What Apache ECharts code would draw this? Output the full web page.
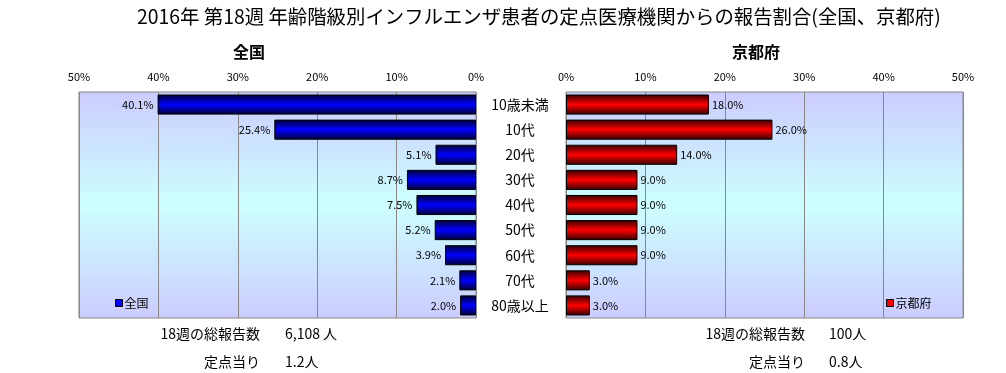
<!DOCTYPE html>
<html><head><meta charset="utf-8">
<script src="https://cdn.jsdelivr.net/npm/echarts@6/dist/echarts.min.js"></script>
<style>html,body{margin:0;padding:0;background:#fff}#c{width:1006px;height:373px}</style>
</head><body><div id="c"></div>
<script>
const titleText = '2016年 第18週 年齢階級別インフルエンザ患者の定点医療機関からの報告割合(全国、京都府)';
const categories = ['10歳未満','10代','20代','30代','40代','50代','60代','70代','80歳以上'];
const nationalValues = [40.1, 25.4, 5.1, 8.7, 7.5, 5.2, 3.9, 2.1, 2.0];
const kyotoValues = [18.0, 26.0, 14.0, 9.0, 9.0, 9.0, 9.0, 3.0, 3.0];
const panelNames = ['全国', '京都府'];
const nationalNotes = [['18週の総報告数', '6,108 人'], ['定点当り', '1.2人']];
const kyotoNotes = [['18週の総報告数', '100人'], ['定点当り', '0.8人']];

const FONT = '"Noto Sans CJK JP", "Noto Sans", sans-serif';
const chart = echarts.init(document.getElementById('c'), null, {renderer: 'canvas'});

const bgGrad = new echarts.graphic.LinearGradient(0, 0, 0, 1, [
  {offset: 0, color: '#ccccff'}, {offset: 0.5, color: '#ccffff'}, {offset: 1, color: '#ccccff'}
]);
const blueGrad = new echarts.graphic.LinearGradient(0, 0, 0, 1, [
  {offset: 0, color: '#000033'}, {offset: 0.5, color: '#0000ff'}, {offset: 1, color: '#000033'}
]);
const redGrad = new echarts.graphic.LinearGradient(0, 0, 0, 1, [
  {offset: 0, color: '#330000'}, {offset: 0.5, color: '#ff0000'}, {offset: 1, color: '#330000'}
]);

function noteTexts(notes, labelRight, valueLeft, y0) {
  const out = [];
  notes.forEach((n, i) => {
    out.push({type: 'text', right: 1006 - labelRight, top: y0 + i * 28,
      style: {text: n[0], font: '14px ' + FONT, fill: '#000', textAlign: 'right'}});
    out.push({type: 'text', left: valueLeft, top: y0 + i * 28,
      style: {text: n[1], font: '14px ' + FONT, fill: '#000'}});
  });
  return out;
}

const xAxisCommon = {
  type: 'value', min: 0, max: 50, interval: 10, position: 'top',
  axisLine: {show: false}, axisTick: {show: false},
  axisLabel: {formatter: '{value}%', fontSize: 11, fontFamily: FONT, color: '#000', margin: 10},
  splitLine: {show: true, lineStyle: {color: '#888', width: 1}}
};

chart.setOption({
  animation: false,
  backgroundColor: '#fff',
  title: [
    {text: titleText, left: 132, top: 2, textStyle: {fontSize: 19.4, fontWeight: 'normal', fontFamily: FONT, color: '#000'}},
    {text: panelNames[0], left: 244, top: 39, textAlign: 'center', textStyle: {fontSize: 16, fontWeight: 'bold', fontFamily: FONT, color: '#000'}},
    {text: panelNames[1], left: 751, top: 39, textAlign: 'center', textStyle: {fontSize: 16, fontWeight: 'bold', fontFamily: FONT, color: '#000'}}
  ],
  legend: [
    {data: [{name: panelNames[0], icon: 'rect', itemStyle: {color: '#0000ff', borderColor: '#000', borderWidth: 1}}],
     left: 115, top: 297, itemWidth: 7, itemHeight: 7, itemGap: 2, padding: 0,
     textStyle: {fontSize: 12, fontFamily: FONT, color: '#000', padding: [0,0,0,-3]}},
    {data: [{name: panelNames[1], icon: 'rect', itemStyle: {color: '#ff0000', borderColor: '#000', borderWidth: 1}}],
     left: 886, top: 297, itemWidth: 7, itemHeight: 7, itemGap: 2, padding: 0,
     textStyle: {fontSize: 12, fontFamily: FONT, color: '#000', padding: [0,0,0,-3]}}
  ],
  grid: [
    {left: 79, width: 397, top: 92, height: 226, show: true, backgroundColor: bgGrad, borderColor: '#888', borderWidth: 1},
    {left: 566, width: 397, top: 92, height: 226, show: true, backgroundColor: bgGrad, borderColor: '#888', borderWidth: 1}
  ],
  xAxis: [
    Object.assign({}, xAxisCommon, {gridIndex: 0, inverse: true}),
    Object.assign({}, xAxisCommon, {gridIndex: 1})
  ],
  yAxis: [
    {type: 'category', gridIndex: 0, data: categories, inverse: true, position: 'right',
     axisLine: {show: false}, axisTick: {show: false},
     axisLabel: {show: true, margin: 44, align: 'center', fontSize: 14, fontFamily: FONT, color: '#000'}},
    {type: 'category', gridIndex: 1, data: categories, inverse: true,
     axisLine: {show: false}, axisTick: {show: false}, axisLabel: {show: false}}
  ],
  series: [
    {name: panelNames[0], type: 'bar', xAxisIndex: 0, yAxisIndex: 0, data: nationalValues,
     barCategoryGap: '20%',
     itemStyle: {color: blueGrad, borderColor: '#000', borderWidth: 1},
     label: {show: true, position: 'left', distance: 4, fontSize: 11, fontFamily: FONT, color: '#000',
       formatter: p => p.value.toFixed(1) + '%'}},
    {name: panelNames[1], type: 'bar', xAxisIndex: 1, yAxisIndex: 1, data: kyotoValues,
     barCategoryGap: '20%',
     itemStyle: {color: redGrad, borderColor: '#000', borderWidth: 1},
     label: {show: true, position: 'right', distance: 3, fontSize: 11, fontFamily: FONT, color: '#000',
       formatter: p => p.value.toFixed(1) + '%'}}
  ],
  graphic: [].concat(noteTexts(nationalNotes, 260, 285, 327), noteTexts(kyotoNotes, 805, 829, 327))
});
</script></body></html>
